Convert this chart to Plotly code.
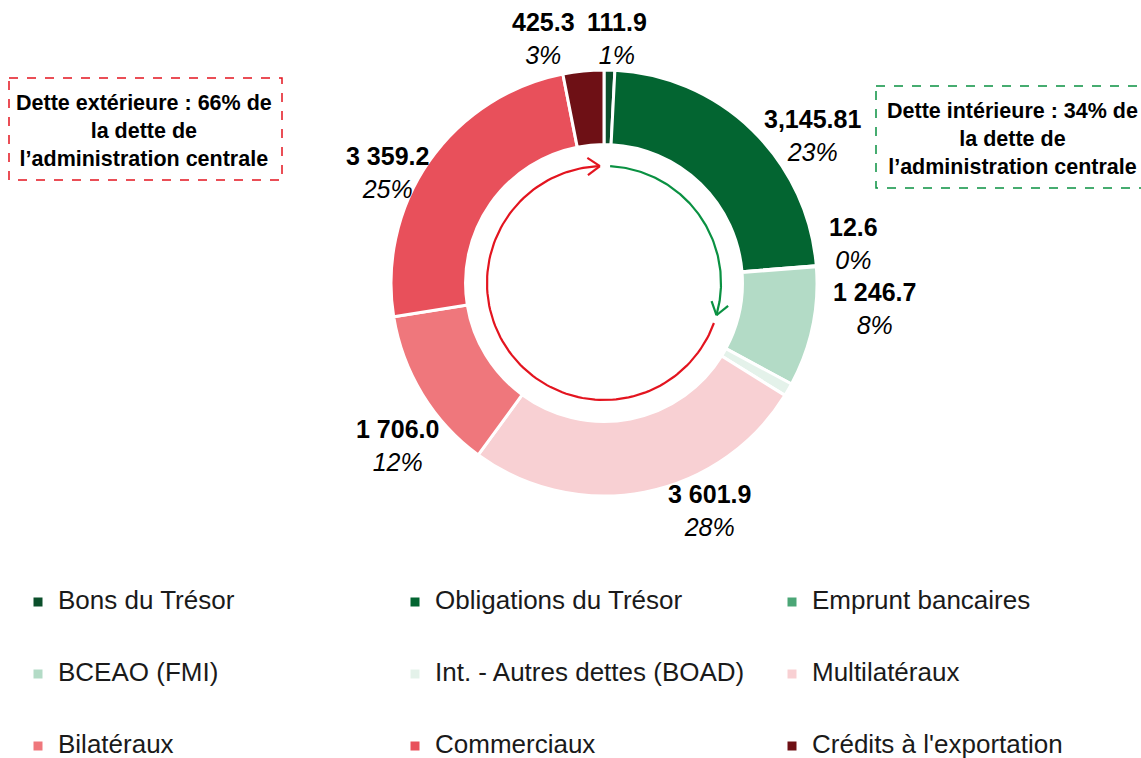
import math
import plotly.graph_objects as go

# Encours de la dette de l'administration centrale (milliards FCFA)
categories = ["Bons du Trésor", "Obligations du Trésor", "Emprunt bancaires",
              "BCEAO (FMI)", "Int. - Autres dettes (BOAD)", "Multilatéraux",
              "Bilatéraux", "Commerciaux", "Crédits à l'exportation"]
values = [111.9, 3145.81, 12.6, 1246.7, 135.0, 3601.9, 1706.0, 3359.2, 425.3]
value_labels = ["111.9", "3,145.81", "12.6", "1 246.7", "", "3 601.9",
                "1 706.0", "3 359.2", "425.3"]
pct_labels = ["1%", "23%", "0%", "8%", "", "28%", "12%", "25%", "3%"]
colors = ["#0b4f2b", "#036531", "#4ba676", "#b3dbc6", "#e4f2ea",
          "#f8d0d3", "#ef777c", "#e8505b", "#6e1015"]

FONT = "Liberation Sans, Arial, sans-serif"
W, H = 1141, 758
CX, CY, R = 604, 283, 213

# where each data label sits (pixels), as placed in the original chart
label_xy = [(617, 38), (812, 135), (853, 243), (874, 308), None,
            (709, 510), (397, 445), (387, 172), (543, 38)]

# blank line above/below each legend label gives the wide row spacing
legend_labels = ["\u00a0<br><span style='font-size:26px'>%s</span><br>\u00a0" % c
                 for c in categories]

fig = go.Figure()

fig.add_trace(go.Pie(
    labels=legend_labels,
    values=values,
    textinfo="none",
    hoverinfo="value+percent",
    marker=dict(colors=colors, line=dict(color="white", width=3)),
    hole=0.65,
    sort=False,
    direction="clockwise",
    rotation=0,
    domain=dict(x=[(CX - R) / W, (CX + R) / W], y=[1 - (CY + R) / H, 1 - (CY - R) / H]),
))


# inner circular arrows (decoration), in pixel coordinates
def arc(a0, a1, r=117, n=120):
    xs, ys = [], []
    for i in range(n + 1):
        t = math.radians(a0 + (a1 - a0) * i / n)
        xs.append(CX + r * math.sin(t))
        ys.append(CY - r * math.cos(t))
    return xs, ys


def head(a, r=117, ln=15, spread=35):
    # arrow head at angle a, pointing clockwise along the circle
    t = math.radians(a)
    tx, ty = CX + r * math.sin(t), CY - r * math.cos(t)
    dx, dy = math.cos(t), math.sin(t)
    back = math.atan2(-dy, -dx)
    xs, ys = [], []
    for s in (spread, -spread):
        b = back + math.radians(s)
        xs += [tx + ln * math.cos(b), tx, None]
        ys += [ty + ln * math.sin(b), ty, None]
    return xs, ys


gx, gy = arc(3, 106)
hx, hy = head(106)
fig.add_trace(go.Scatter(x=gx + [None] + hx, y=gy + [None] + hy, mode="lines",
                         line=dict(color="#0a9142", width=2.2),
                         showlegend=False, hoverinfo="skip"))
rx, ry = arc(110, 358)
hx, hy = head(358)
fig.add_trace(go.Scatter(x=rx + [None] + hx, y=ry + [None] + hy, mode="lines",
                         line=dict(color="#e3141f", width=2.2),
                         showlegend=False, hoverinfo="skip"))

# data labels: bold value, italic share
annotations = []
for txt, pct, xy in zip(value_labels, pct_labels, label_xy):
    if not txt:
        continue
    annotations.append(dict(
        xref="x", yref="y", x=xy[0], y=xy[1], showarrow=False,
        text="<b>%s</b><br><i>%s</i>" % (txt, pct), align="center",
        font=dict(family=FONT, size=25, color="#000000")))

annotations += [
    dict(xref="x", yref="y", x=144, y=131, showarrow=False,
         text="<b>Dette extérieure : 66% de<br>la dette de<br>l’administration centrale</b>",
         font=dict(family=FONT, size=21.5, color="#000000"), align="center"),
    dict(xref="x", yref="y", x=1012, y=139, showarrow=False,
         text="<b>Dette intérieure : 34% de<br>la dette de<br>l’administration centrale</b>",
         font=dict(family=FONT, size=21.5, color="#000000"), align="center"),
]

fig.update_layout(
    width=W, height=H,
    margin=dict(l=0, r=0, t=0, b=0, autoexpand=False),
    paper_bgcolor="white", plot_bgcolor="rgba(0,0,0,0)",
    font=dict(family=FONT, color="#000000"),
    xaxis=dict(range=[0, W], visible=False, fixedrange=True, domain=[0, 1]),
    yaxis=dict(range=[H, 0], visible=False, fixedrange=True, domain=[0, 1]),
    legend=dict(
        orientation="h", x=18 / W, y=1 - 561 / H, xanchor="left", yanchor="top",
        entrywidth=332, entrywidthmode="pixels",
        font=dict(family=FONT, size=17.7, color="#1a1a1a"),
        traceorder="normal",
    ),
    shapes=[
        dict(type="rect", xref="x", yref="y", x0=9, x1=282, y0=78, y1=180,
             line=dict(color="#e3141f", width=1.5, dash="dash")),
        dict(type="rect", xref="x", yref="y", x0=876, x1=1150, y0=86, y1=188,
             line=dict(color="#0a9142", width=1.5, dash="dash")),
    ],
    annotations=annotations,
)

# page body margin would shift the fixed-size figure by 8px
fig.write_html("out.html", config={"displayModeBar": False},
               post_script="document.body.style.margin='0';")
